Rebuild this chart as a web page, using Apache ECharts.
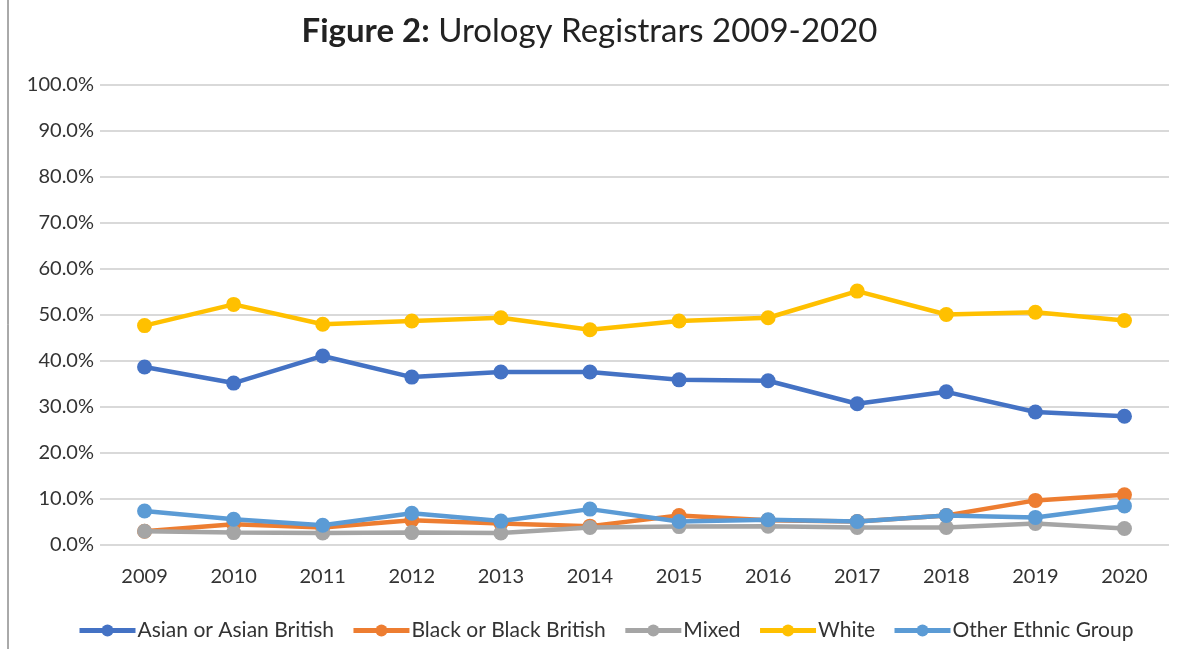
<!DOCTYPE html>
<html>
<head>
<meta charset="utf-8">
<script src="https://cdn.jsdelivr.net/npm/echarts@6/dist/echarts.min.js"></script>
<style>html,body{margin:0;padding:0;background:#fff;}#c{width:1179px;height:649px;}</style>
</head>
<body>
<div id="c"></div>
<script>
const years = ['2009','2010','2011','2012','2013','2014','2015','2016','2017','2018','2019','2020'];
const asian = [38.7, 35.2, 41.1, 36.5, 37.6, 37.6, 35.9, 35.7, 30.7, 33.3, 28.9, 28.0];
const black = [3.0, 4.5, 3.8, 5.4, 4.7, 4.1, 6.4, 5.4, 5.1, 6.4, 9.7, 10.9];
const mixed = [3.0, 2.7, 2.6, 2.7, 2.6, 3.8, 4.0, 4.1, 3.8, 3.8, 4.7, 3.6];
const white = [47.7, 52.3, 48.0, 48.7, 49.4, 46.8, 48.7, 49.4, 55.2, 50.1, 50.6, 48.8];
const other = [7.4, 5.6, 4.3, 6.9, 5.2, 7.8, 5.1, 5.5, 5.1, 6.4, 6.0, 8.5];
const seriesNames = ['Asian or Asian British','Black or Black British','Mixed','White','Other Ethnic Group'];
const colors = ['#4472C4','#ED7D31','#A5A5A5','#FFC000','#5B9BD5'];
const seriesData = [asian, black, mixed, white, other];

const font = 'Lato, "Open Sans", sans-serif';
const chart = echarts.init(document.getElementById('c'));
chart.setOption({
  animation: false,
  color: colors,
  title: {
    text: '{b|Figure 2:} Urology Registrars 2009-2020',
    left: 'center', top: 10,
    textStyle: {
      fontFamily: font, fontSize: 33, fontWeight: 'normal', color: '#222',
      rich: { b: { fontFamily: font, fontSize: 33, fontWeight: 'bold', color: '#222' } }
    }
  },
  graphic: [{
    type: 'line', shape: {x1: 8, y1: 0, x2: 8, y2: 649},
    style: {stroke: '#555', lineWidth: 1}
  }],
  legend: {
    bottom: 3, left: 72, itemGap: 17, itemWidth: 56, itemHeight: 15,
    lineStyle: {width: 5},
    textStyle: {fontFamily: font, fontSize: 21, color: '#333', padding: [0, 0, 0, -3]},
    data: seriesNames
  },
  grid: {left: 100, right: 10, top: 85, bottom: 104, containLabel: false},
  xAxis: {
    type: 'category', data: years, boundaryGap: true,
    axisLine: {show: false}, axisTick: {show: false},
    axisLabel: {fontFamily: font, fontSize: 20, color: '#333', margin: 22}
  },
  yAxis: {
    type: 'value', min: 0, max: 100, interval: 10,
    axisLine: {show: false}, axisTick: {show: false},
    splitLine: {lineStyle: {color: '#d9d9d9', width: 2}},
    axisLabel: {fontFamily: font, fontSize: 20, color: '#333', margin: 6,
      formatter: v => v.toFixed(1) + '%'}
  },
  series: seriesNames.map((n, i) => ({
    name: n, type: 'line', data: seriesData[i],
    symbol: 'circle', symbolSize: 15,
    lineStyle: {width: 4.5, color: colors[i]},
    itemStyle: {color: colors[i]},
    z: 2 + i
  }))
});
</script>
</body>
</html>
